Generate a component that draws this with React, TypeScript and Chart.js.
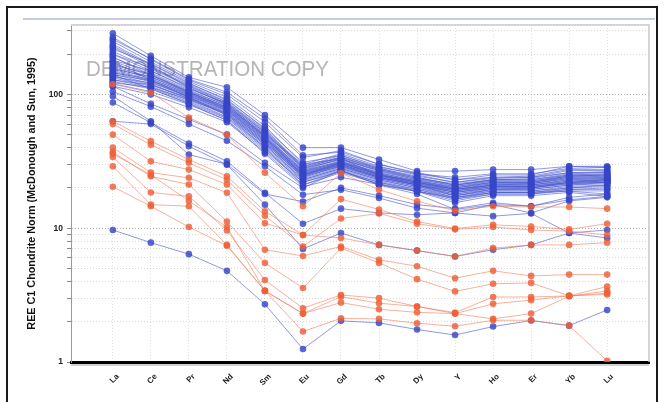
import React, { useEffect, useRef } from 'react';
import { Chart, registerables } from 'chart.js';

Chart.register(...registerables);

const elements = ['La', 'Ce', 'Pr', 'Nd', 'Sm', 'Eu', 'Gd', 'Tb', 'Dy', 'Y', 'Ho', 'Er', 'Yb', 'Lu'];
const yTickValues = [1, 2, 3, 4, 5, 6, 7, 8, 9, 10, 20, 30, 40, 50, 60, 70, 80, 90, 100, 200, 300];
const yLabelValues = [1, 10, 100];
const yTitle = 'REE C1 Chondrite Norm (McDonough and Sun, 1995)';
const watermark = 'DEMONSTRATION COPY';

const blueSamples: number[][] = [
  [286, 194, 134, 113, 70, 40, 40, 32.6, 26.7, 26.7, 27.4, 27.4, 29, 29],
  [267, 182, 128, 100, 62, 33.7, 38, 30, 26, 23, 25, 25, 29, 28.5],
  [258, 185, 130, 104, 66, 35, 37, 30, 25.5, 24, 25.5, 25.5, 28, 28.5],
  [249, 175, 125, 95, 58, 30, 36, 29, 25, 22, 24, 24, 27, 27],
  [237, 168, 120, 92, 55, 29, 35, 28, 24, 21, 23, 23.5, 26, 26.5],
  [230, 165, 112, 84, 48, 25, 31, 25, 22.5, 20.5, 22, 22, 24.5, 25],
  [225, 160, 118, 88, 54, 28, 34, 27.5, 24, 21, 23, 23, 25.5, 26],
  [218, 170, 122, 90, 56, 31, 35, 28.5, 25.5, 23, 24, 24.5, 27.5, 27.5],
  [210, 155, 115, 85, 52, 27.5, 33, 27, 23.5, 20.5, 22.5, 22.5, 25, 25.5],
  [200, 158, 116, 87, 53, 29, 34, 28, 24.5, 22, 23.5, 24, 26, 26],
  [199, 150, 112, 84, 50, 27, 33, 26.5, 23, 20, 22, 22, 24.5, 25],
  [190, 140, 104, 80, 50, 30, 33, 25, 21, 17.5, 19.5, 20, 22, 22],
  [189, 145, 108, 82, 49, 26.5, 32, 26, 22.5, 19.5, 21.5, 21.5, 24, 24.5],
  [180, 150, 110, 86, 52, 28.5, 33.5, 27.5, 23.5, 21.5, 23, 23, 25, 25],
  [177, 140, 105, 80, 48, 26, 31.5, 25.5, 22, 19.5, 21, 21.5, 23.5, 24],
  [175, 128, 95, 70, 40, 21, 27, 21.2, 18.8, 16.9, 18.5, 18.5, 18.9, 18],
  [170, 138, 104, 78, 47, 25.5, 31, 25, 22, 19, 21, 21, 23, 23.5],
  [165, 142, 106, 83, 51, 28, 32.5, 27, 23, 21, 22.5, 22.5, 24.5, 24.5],
  [162, 135, 102, 77, 46, 25, 30.5, 25, 21.5, 19, 20.5, 20.5, 22.5, 23],
  [158, 132, 100, 76, 45, 25, 30, 24.5, 21.5, 18.5, 20.5, 20.5, 22, 23],
  [155, 135, 103, 81, 49, 27, 31.5, 26, 22.5, 20, 22, 22, 24, 24],
  [154, 128, 98, 75, 45, 24.5, 30, 24, 21, 18.5, 20, 20, 22, 22.5],
  [150, 126, 96, 74, 44, 24, 29.5, 24, 21, 18, 20, 20, 21.5, 22],
  [146, 124, 95, 72, 43, 24, 29, 23.5, 20.5, 18, 19.5, 19.5, 21, 22],
  [145, 130, 101, 79, 48, 26.5, 31, 25.5, 22, 20, 21.5, 21.5, 23.5, 23.5],
  [142, 120, 93, 71, 42, 23.5, 28.5, 23.5, 20.5, 17.5, 19.5, 19.5, 21, 21.5],
  [140, 127, 99, 78, 47, 26, 30.5, 25, 22, 19.5, 21, 21, 23, 23],
  [140, 110, 85, 64, 36, 20.4, 24, 21.2, 18.8, 15.5, 17.5, 17.5, 18.5, 17.3],
  [137, 118, 92, 70, 42, 23, 28, 23, 20, 17.5, 19, 19, 20.5, 21],
  [135, 122, 97, 76, 46, 25.5, 30, 24.5, 21.5, 19.5, 21, 21, 22.5, 23],
  [133, 115, 90, 68, 41, 23, 28, 23, 20, 17, 19, 19, 20, 21],
  [129, 112, 88, 67, 40, 22.5, 27.5, 22.5, 19.5, 17, 18.5, 18.5, 20, 20.5],
  [128, 118, 94, 73, 44, 25, 29.5, 24, 21, 19, 20.5, 20.5, 22, 22.5],
  [125, 110, 86, 66, 39, 22, 27, 22, 19.5, 16.5, 18.5, 18.5, 19.5, 20],
  [122, 113, 91, 72, 43, 24.5, 29, 24, 21, 18.5, 20, 20, 21.5, 22],
  [120, 105, 84, 64, 38, 22, 26.5, 22, 19, 16.5, 18, 18, 19.5, 19.5],
  [115, 100, 80, 62, 37, 21, 26, 21.5, 19, 16, 18, 18, 19, 19],
  [115, 85, 65, 50, 30.8, 20, 27, 21, 18, 13.8, 15, 14.6, 16.3, 17.3],
  [105, 81, 60, 45, 29, 17.8, 19.4, 16.8, 14.1, 13, 15, 13, 16, 17],
  [97, 63, 35.5, 30, 18, 15.8, 20, 17.5, 15, 14, 15.5, 14.6, 17, 18],
  [87, 61.5, 43, 31.6, 18.4, 10.8, 14, 13, 12.6, 13, 12.3, 12.9, 9.2, 8.45],
  [63, 60, 41, 29.8, 15, 7.0, 9.2, 7.5, 6.8, 6.15, 6.9, 7.5, 9.2, 9.7],
  [9.7, 7.8, 6.4, 4.8, 2.7, 1.25, 2.03, 1.96, 1.75, 1.59, 1.84, 2.04, 1.87, 2.45],
];

const orangeSamples: number[][] = [
  [119, 103, 67, 50, 26, 14.6, 25.8, 19.4, 15.9, 13.5, 14.6, 14.4, 14.4, 14.0],
  [63, 44.7, 32.6, 24.4, 13.4, 8.9, 16.5, 13.8, 11.2, 9.95, 10.6, 10.3, 9.8, 10.8],
  [60, 42, 30.8, 23, 12.4, 7.3, 11.8, 12.9, 10.8, 9.8, 10.2, 9.7, 9.5, 8.9],
  [50, 31.6, 27.4, 21.2, 10.9, 8.9, 8.45, 7.5, 6.8, 6.15, 7.1, 7.5, 7.5, 7.8],
  [40, 26, 23.8, 18.4, 6.9, 6.2, 7.3, 5.8, 5.2, 4.23, 4.8, 4.4, 4.5, 4.5],
  [37, 24.4, 21.2, 11.2, 5.5, 3.57, 7.1, 5.5, 4.16, 3.37, 3.84, 3.9, 3.12, 3.67],
  [34, 18.5, 17.3, 9.6, 4.1, 2.52, 3.17, 3.0, 2.6, 2.34, 3.06, 3.06, 3.12, 3.27],
  [29, 15, 14.6, 7.5, 3.4, 2.3, 3.08, 2.75, 2.6, 2.3, 2.72, 2.9, 3.12, 3.2],
  [36, 25, 16, 10.2, 3.4, 2.3, 2.78, 2.48, 2.35, 2.3, 2.1, 2.3, 3.1, 3.4],
  [20.4, 14.6, 10.2, 7.4, 3.4, 1.69, 2.12, 2.1, 1.95, 1.85, 2.05, 2.05, 1.87, 1.02],
];

const BLUE_LINE = 'rgba(70, 85, 205, 0.6)';
const BLUE_POINT = 'rgba(55, 70, 200, 0.82)';
const ORANGE_LINE = 'rgba(240, 125, 90, 0.6)';
const ORANGE_POINT = 'rgba(238, 95, 55, 0.82)';
const FONT = '"Liberation Sans", Arial, sans-serif';

const toPoints = (vals: number[]) => vals.map((v, i) => ({ x: i, y: v }));

const decorPlugin = {
  id: 'decor',
  beforeDatasetsDraw(chart: any) {
    const { ctx, chartArea: a } = chart;
    ctx.save();
    ctx.strokeStyle = '#c9c9c9';
    ctx.lineWidth = 1.5;
    ctx.beginPath();
    ctx.moveTo(a.left, a.top);
    ctx.lineTo(a.right, a.top);
    ctx.lineTo(a.right, a.bottom);
    ctx.stroke();
    ctx.font = `22px ${FONT}`;
    ctx.fillStyle = 'rgba(150,150,150,0.7)';
    ctx.textBaseline = 'alphabetic';
    const w = ctx.measureText(watermark).width;
    ctx.translate(a.left + 15, a.top + 51);
    ctx.scale(243 / w, 1);
    ctx.fillText(watermark, 0, 0);
    ctx.restore();
  },
  afterDraw(chart: any) {
    const { ctx, chartArea: a } = chart;
    ctx.save();
    ctx.strokeStyle = 'rgba(0,0,0,0.18)';
    ctx.lineWidth = 2;
    ctx.beginPath();
    ctx.moveTo(a.left, a.bottom + 3);
    ctx.lineTo(a.right, a.bottom + 3);
    ctx.stroke();
    ctx.restore();
  },
};

export default function App() {
  const ref = useRef<HTMLCanvasElement | null>(null);

  useEffect(() => {
    if (!ref.current) return;
    const datasets: any[] = [];
    orangeSamples.forEach((s, i) => {
      datasets.push({
        label: 'orange ' + i,
        data: toPoints(s),
        borderColor: ORANGE_LINE,
        backgroundColor: ORANGE_POINT,
        pointBackgroundColor: ORANGE_POINT,
        pointBorderWidth: 0,
        pointRadius: 3.3,
        borderWidth: 1,
      });
    });
    blueSamples.forEach((s, i) => {
      datasets.push({
        label: 'blue ' + i,
        data: toPoints(s),
        borderColor: BLUE_LINE,
        backgroundColor: BLUE_POINT,
        pointBackgroundColor: BLUE_POINT,
        pointBorderWidth: 0,
        pointRadius: 3.3,
        borderWidth: 1,
      });
    });

    const chart = new Chart(ref.current, {
      type: 'line',
      data: { datasets },
      plugins: [decorPlugin],
      options: {
        animation: false,
        responsive: false,
        devicePixelRatio: 1,
        events: [],
        layout: { padding: { left: 26, top: 25, right: 16, bottom: 5 } },
        plugins: { legend: { display: false }, tooltip: { enabled: false } },
        scales: {
          x: {
            type: 'linear',
            min: -1.1,
            max: 14.1,
            afterBuildTicks: (scale: any) => {
              scale.ticks = elements.map((_, i) => ({ value: i }));
            },
            afterFit: (scale: any) => {
              scale.height = 35;
            },
            ticks: {
              autoSkip: false,
              maxRotation: 45,
              minRotation: 45,
              padding: 10,
              labelOffset: 5,
              color: '#222',
              font: { family: FONT, size: 8, weight: 'bold' },
              callback: (v: any) => elements[v] ?? '',
            },
            grid: {
              color: 'rgba(200,200,200,0.6)',
              drawTicks: false,
            },
            border: { display: true, color: '#000', width: 3, dash: [1, 2] },
          },
          y: {
            type: 'logarithmic',
            min: 1,
            max: 330,
            afterBuildTicks: (scale: any) => {
              scale.ticks = yTickValues.map((v) => ({ value: v, major: yLabelValues.includes(v) }));
            },
            afterFit: (scale: any) => {
              scale.width = 45;
            },
            ticks: {
              autoSkip: false,
              padding: 4,
              color: '#222',
              font: { family: FONT, size: 8.5, weight: 'bold' },
              callback: (v: any) => (yLabelValues.includes(Number(v)) ? String(v) : ''),
            },
            grid: {
              color: (c: any) =>
                c.tick && yLabelValues.includes(c.tick.value) ? 'rgba(170,170,170,0.9)' : 'rgba(200,200,200,0.7)',
              tickLength: 4,
              tickColor: '#888',
            },
            border: { display: true, color: '#999', width: 1, dash: [1, 2] },
            title: {
              display: true,
              text: yTitle,
              color: '#111',
              padding: { top: 0, bottom: 0 },
              font: { family: FONT, size: 10.8, weight: 'bold' },
            },
          },
        },
      },
    });
    return () => chart.destroy();
  }, []);

  return (
    <div style={{ position: 'fixed', left: 0, top: 0, width: 665, height: 402, background: '#fff' }}>
      <div
        style={{
          position: 'absolute',
          left: 6,
          top: 6,
          width: 648,
          height: 410,
          border: '2px solid #1a1a1a',
        }}
      />
      <div
        style={{
          position: 'absolute',
          left: 23,
          top: 18,
          width: 632,
          height: 2,
          background: '#c6cbe0',
        }}
      />
      <canvas ref={ref} width={665} height={402} style={{ position: 'absolute', left: 0, top: 0 }} />
    </div>
  );
}
